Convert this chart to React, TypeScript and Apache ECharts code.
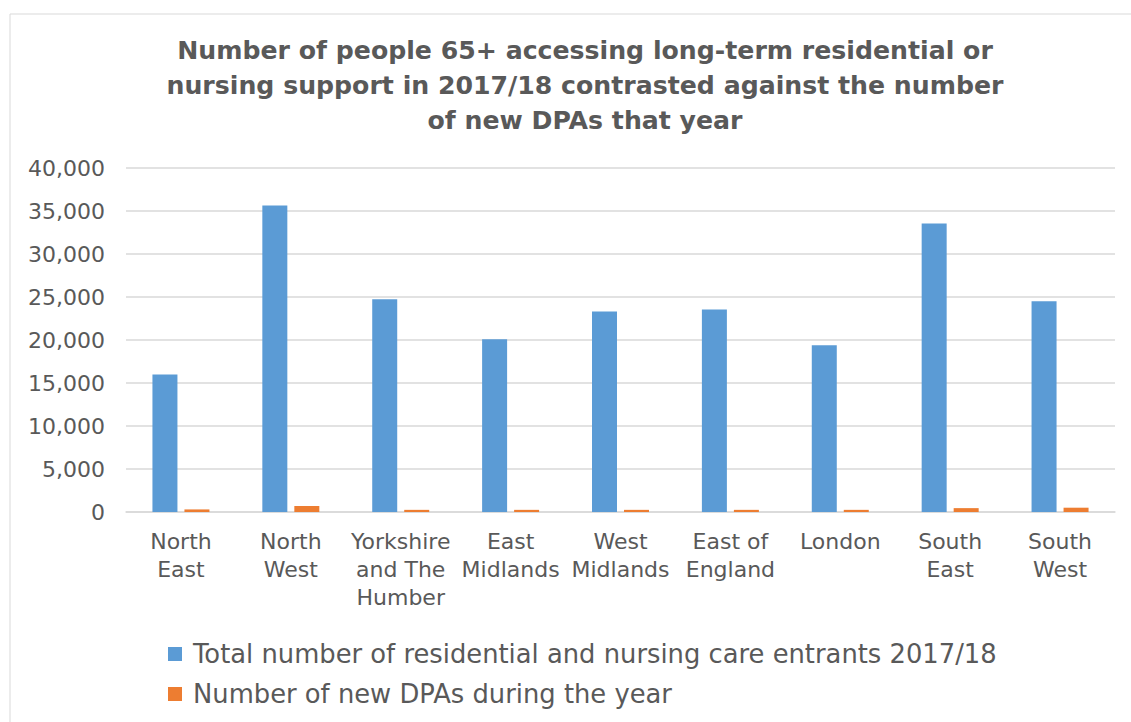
import React, { useEffect, useRef } from "react";
import * as echarts from "echarts";

const categories = [
  "North\nEast",
  "North\nWest",
  "Yorkshire\nand The\nHumber",
  "East\nMidlands",
  "West\nMidlands",
  "East of\nEngland",
  "London",
  "South\nEast",
  "South\nWest",
];
const entrants = [16000, 35650, 24750, 20100, 23300, 23550, 19400, 33550, 24500];
const newDPAs = [300, 700, 250, 250, 250, 250, 250, 450, 500];
const seriesNames = [
  "Total number of residential and nursing care entrants 2017/18",
  "Number of new DPAs during the year",
];
const titleText =
  "Number of people 65+ accessing long-term residential or\nnursing support in 2017/18 contrasted against the number\nof new DPAs that year";

const FONT = "'DejaVu Sans', 'Liberation Sans', Arial, sans-serif";

export default function App() {
  const ref = useRef<HTMLDivElement>(null);
  useEffect(() => {
    document.body.style.margin = "0";
    const chart = echarts.init(ref.current!, null, { renderer: "svg" });
    chart.setOption({
      animation: false,
      backgroundColor: "#ffffff",
      textStyle: { fontFamily: FONT },
      title: {
        text: titleText,
        left: 580,
        textAlign: "center",
        top: 28,
        textStyle: {
          fontFamily: FONT,
          fontWeight: "bold",
          fontSize: 25.2,
          lineHeight: 35,
          color: "#595959",
        },
      },
      graphic: [
        {
          type: "rect",
          shape: { x: 10, y: 14, width: 1300, height: 900 },
          style: { fill: "none", stroke: "#d9d9d9", lineWidth: 1 },
          silent: true,
        },
      ],
      legend: {
        orient: "vertical",
        left: 168,
        top: 641,
        padding: 0,
        itemWidth: 14,
        itemHeight: 14,
        itemGap: 14,
        icon: "rect",
        textStyle: { fontFamily: FONT, fontSize: 25.8, color: "#595959", padding: [0, 0, 0, 6] },
        data: seriesNames,
      },
      grid: { left: 126, right: 16, top: 168, bottom: 210, containLabel: false },
      xAxis: {
        type: "category",
        data: categories,
        axisLine: { show: true, lineStyle: { color: "#d9d9d9", width: 1.5 } },
        axisTick: { show: false },
        axisLabel: {
          interval: 0,
          margin: 15,
          fontFamily: FONT,
          fontSize: 22,
          lineHeight: 28,
          color: "#595959",
        },
      },
      yAxis: {
        type: "value",
        min: 0,
        max: 40000,
        interval: 5000,
        axisLine: { show: false },
        axisTick: { show: false },
        splitLine: { lineStyle: { color: "#d9d9d9", width: 1.5 } },
        axisLabel: {
          margin: 21,
          fontFamily: FONT,
          fontSize: 22,
          color: "#595959",
          formatter: (v: number) => v.toLocaleString("en-GB"),
        },
      },
      series: [
        {
          name: seriesNames[0],
          type: "bar",
          data: entrants,
          barWidth: 25,
          barGap: "28%",
          itemStyle: { color: "#5B9BD5" },
        },
        {
          name: seriesNames[1],
          type: "bar",
          data: newDPAs,
          barWidth: 25,
          itemStyle: { color: "#ED7D31" },
        },
      ],
    });
    return () => chart.dispose();
  }, []);
  return <div ref={ref} style={{ width: 1131, height: 722 }} />;
}
